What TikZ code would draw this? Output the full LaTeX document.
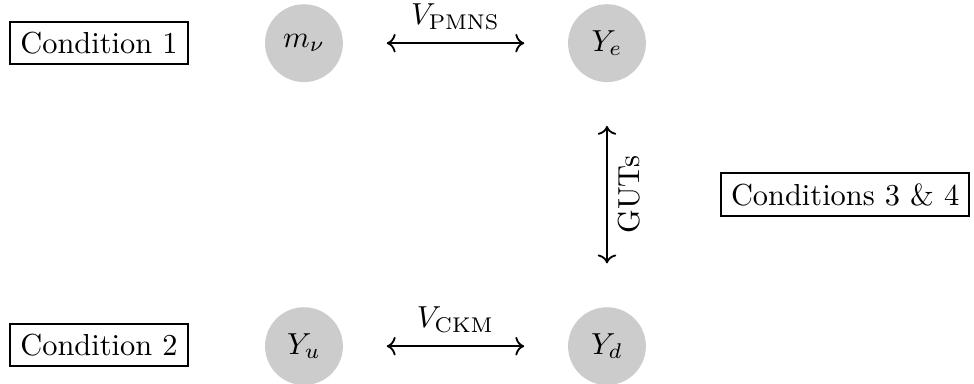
\documentclass[tikz,border=0pt]{standalone}
\usetikzlibrary{arrows.meta}
\begin{document}
\begin{tikzpicture}[blob/.style={circle, fill=black!20, minimum size=0.9cm, inner sep=0pt},
  condbox/.style={draw, semithick},
  link/.style={{To}-{To}, semithick, shorten >=0.5cm, shorten <=0.5cm}]
\useasboundingbox (0,0) rectangle (11.26,4.43);
% the four matrices
\node[blob] (mnu) at (3.514,3.931) {$m_\nu$};
\node[blob] (Ye) at (7.017,3.931) {$Y_e$};
\node[blob] (Yu) at (3.514,0.428) {$Y_u$};
\node[blob] (Yd) at (7.017,0.428) {$Y_d$};
% conditions
\node[condbox] (cond1) at (1.144,3.931) {Condition 1};
\node[condbox] (cond2) at (1.144,0.439) {Condition 2};
\node[condbox] (cond34) at (9.77,2.179) {Conditions 3 \& 4};
% relations
\draw[link] (mnu) -- node[above=1pt] {$V_{\mathrm{PMNS}}$} (Ye);
\draw[link] (Yu) -- node[above=1pt] {$V_{\mathrm{CKM}}$} (Yd);
\draw[link] (Ye) -- node[midway, rotate=90, anchor=north] {GUTs} (Yd);
\end{tikzpicture}
\end{document}
